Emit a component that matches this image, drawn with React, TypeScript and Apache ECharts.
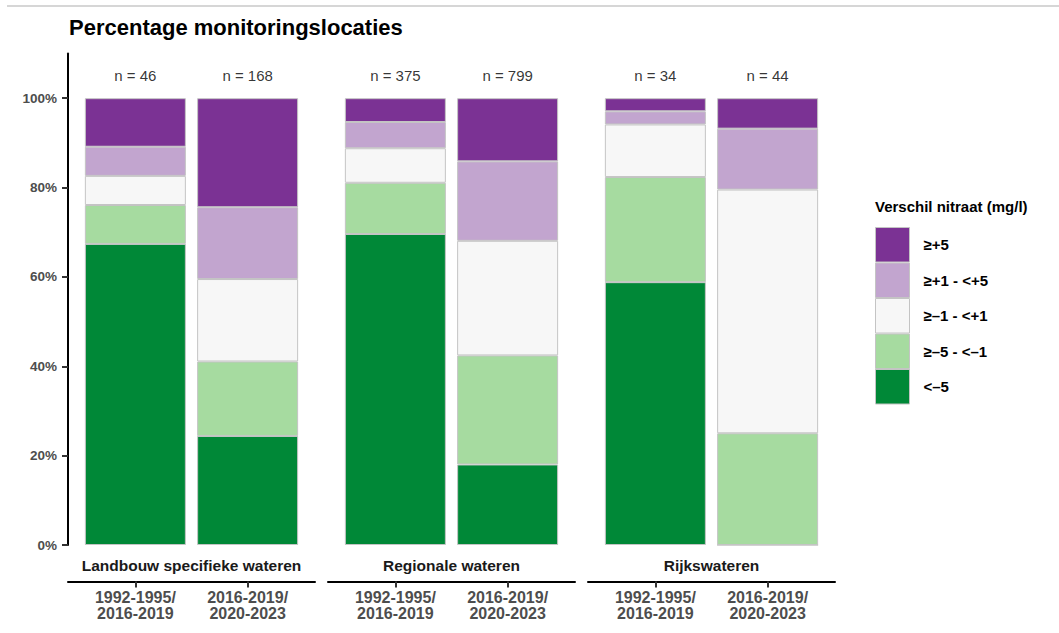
import React, { useEffect, useRef } from "react";
import * as echarts from "echarts";

// ---- data ----
const classes = ["<–5", "≥–5 - <–1", "≥–1 - <+1", "≥+1 - <+5", "≥+5"]; // bottom to top
const classColors = ["#008837", "#A6DBA0", "#F7F7F7", "#C2A5CF", "#7B3294"];
const periodLabels = ["1992-1995/\n2016-2019", "2016-2019/\n2020-2023"];
const groupNames = ["Landbouw specifieke wateren", "Regionale wateren", "Rijkswateren"];

// number of monitoring locations per class (bottom to top)
const landbouwOld = [31, 4, 3, 3, 5];
const landbouwNew = [41, 28, 31, 27, 41];
const regionaalOld = [261, 43, 29, 22, 20];
const regionaalNew = [144, 195, 205, 142, 113];
const rijksOld = [20, 8, 4, 1, 1];
const rijksNew = [0, 11, 24, 6, 3];

const groupCounts = [
  [landbouwOld, landbouwNew],
  [regionaalOld, regionaalNew],
  [rijksOld, rijksNew],
];

const yTicks = [0, 20, 40, 60, 80, 100];
const nLabelLevel = 105;

// ---- layout ----
const panels = [
  [68, 315],
  [328, 575],
  [588, 835],
];
const gridTop = 53.5;
const gridBottomY = 545;
const CH = 633;
const FONT = "Liberation Sans, Arial, Helvetica, sans-serif";

export default function App() {
  const ref = useRef<HTMLDivElement>(null);

  useEffect(() => {
    if (!ref.current) return;
    const chart = echarts.init(ref.current, null, { renderer: "svg" });

    const grids = panels.map(([x0, x1]) => ({
      left: x0,
      width: x1 - x0,
      top: gridTop,
      bottom: CH - gridBottomY,
      containLabel: false,
    }));

    const xAxes = panels.map((_, i) => ({
      type: "value",
      gridIndex: i,
      min: 0.4,
      max: 2.6,
      offset: 36.5,
      splitLine: { show: false },
      axisLine: { show: true, onZero: false, lineStyle: { color: "#000", width: 2 } },
      axisTick: { show: true, customValues: [1, 2], length: 6, lineStyle: { color: "#333", width: 2 } },
      axisLabel: {
        customValues: [1, 2],
        formatter: (v: number) => periodLabels[Math.round(v) - 1] ?? "",
        fontFamily: FONT,
        fontSize: 16,
        fontWeight: "bold",
        color: "#4d4d4d",
        lineHeight: 16,
        margin: 8,
      },
    }));

    const yAxes = panels.map((_, i) => ({
      type: "value",
      gridIndex: i,
      min: 0,
      max: 110,
      show: i === 0,
      splitLine: { show: false },
      axisLine: { show: true, lineStyle: { color: "#000", width: 2 } },
      axisTick: { show: true, customValues: yTicks, length: 6, lineStyle: { color: "#333", width: 2 } },
      axisLabel: {
        customValues: yTicks,
        formatter: (v: number) => `${v}%`,
        fontFamily: FONT,
        fontSize: 13.5,
        fontWeight: "bold",
        color: "#4d4d4d",
        margin: 11,
      },
    }));

    const series: any[] = [];
    groupCounts.forEach((periods, gi) => {
      const totals = periods.map((c) => c.reduce((a, b) => a + b, 0));
      classes.forEach((cls, ci) => {
        series.push({
          name: cls,
          type: "bar",
          xAxisIndex: gi,
          yAxisIndex: gi,
          stack: "g" + gi,
          barWidth: 101,
          // value first so that the percentage (y) is the stacked dimension
          encode: { x: 1, y: 0 },
          itemStyle: { color: classColors[ci], borderColor: "#c4c4c4", borderWidth: 1 },
          emphasis: { disabled: true },
          data: periods.map((c, pi) => [(c[ci] / totals[pi]) * 100, pi + 1]),
        });
      });
      series.push({
        type: "scatter",
        xAxisIndex: gi,
        yAxisIndex: gi,
        symbolSize: 0,
        silent: true,
        label: {
          show: true,
          position: "inside",
          formatter: (p: any) => `n = ${p.value[2]}`,
          fontFamily: FONT,
          fontSize: 15,
          color: "#000",
        },
        data: totals.map((t, pi) => [pi + 1, nLabelLevel, t]),
      });
    });

    const stripTexts = panels.map(([x0, x1], i) => ({
      type: "text",
      x: (x0 + x1) / 2,
      y: 565,
      style: {
        text: groupNames[i],
        fontFamily: FONT,
        fontSize: 15.5,
        fontWeight: "bold",
        fill: "#1a1a1a",
        textAlign: "center",
        textVerticalAlign: "middle",
      },
    }));

    chart.setOption({
      animation: false,
      backgroundColor: "#fff",
      title: [
        {
          text: "Percentage monitoringslocaties",
          left: 69,
          top: 16,
          padding: 0,
          textStyle: { fontFamily: FONT, fontSize: 22, fontWeight: "bold", color: "#000" },
        },
        {
          text: "Verschil nitraat (mg/l)",
          left: 875,
          top: 199,
          padding: 0,
          textStyle: { fontFamily: FONT, fontSize: 15, fontWeight: "bold", color: "#000" },
        },
      ],
      legend: {
        data: [...classes].reverse(),
        orient: "vertical",
        left: 875,
        top: 227,
        padding: 0,
        itemGap: 0,
        itemWidth: 34,
        itemHeight: 34.5,
        icon: "rect",
        selectedMode: false,
        itemStyle: { borderColor: "#c4c4c4", borderWidth: 1 },
        textStyle: {
          fontFamily: FONT,
          fontSize: 15,
          fontWeight: "bold",
          color: "#000",
          padding: [0, 0, 0, 9],
        },
      },
      grid: grids,
      xAxis: xAxes,
      yAxis: yAxes,
      series,
      graphic: [
        {
          type: "line",
          shape: { x1: 7, y1: 6, x2: 1059, y2: 6 },
          style: { stroke: "#c8c8c8", lineWidth: 1.5 },
          silent: true,
        },
        ...stripTexts,
      ],
    });

    return () => chart.dispose();
  }, []);

  return (
    <div
      ref={ref}
      style={{ position: "absolute", left: 0, top: 0, width: 1059, height: 633 }}
    />
  );
}
